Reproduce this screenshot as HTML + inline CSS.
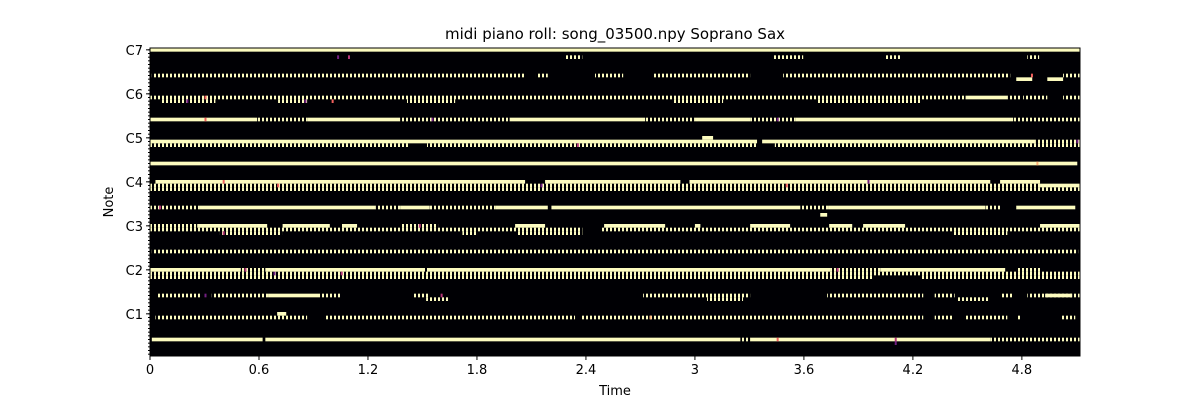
<!DOCTYPE html>
<html><head><meta charset="utf-8"><style>
html,body{margin:0;padding:0;background:#fff;}
svg{display:block;font-family:"DejaVu Sans","Liberation Sans",sans-serif;}
</style></head><body>
<svg id="chart" width="1200" height="400" xmlns="http://www.w3.org/2000/svg">
<defs>
<pattern id="dash" patternUnits="userSpaceOnUse" x="150" y="0" width="4" height="400"><rect x="0" y="0" width="2.2" height="400" fill="#fcfbbf" shape-rendering="crispEdges"/></pattern>
</defs>
<rect x="150" y="48" width="930" height="308" fill="#000004"/>
<g id="marks"></g>
<rect x="150" y="48" width="930" height="308" fill="none" stroke="#000" stroke-width="1"/>
<g id="axes" font-size="13" fill="#000"></g>
<text x="615" y="39" text-anchor="middle" font-size="15">midi piano roll: song_03500.npy Soprano Sax</text>
<text x="615" y="395" text-anchor="middle" font-size="13">Time</text>
<text x="0" y="0" transform="translate(113,202) rotate(-90)" text-anchor="middle" font-size="13">Note</text>
</svg>
<script>
const xTicks = [0, 0.6, 1.2, 1.8, 2.4, 3, 3.6, 4.2, 4.8];
const xTickLabels = ["0", "0.6", "1.2", "1.8", "2.4", "3", "3.6", "4.2", "4.8"];
const yTickPitches = [24, 36, 48, 60, 72, 84, 96];
const yTickLabels = ["C1", "C2", "C3", "C4", "C5", "C6", "C7"];
const solidNotes = [
[96,0,5.12],[88,4.769,4.857],[88,4.94,5.027],[83,4.49,4.72],
[77,0,0.59],[77,0.865,1.377],[77,1.98,2.726],[77,3.0,3.304],[77,3.552,4.752],
[72,3.04,3.10],[71,0,3.342],[71,3.37,4.873],[65,0,5.105],
[60,0.03,2.065],[60,2.175,2.92],[60,2.97,4.626],[60,4.68,4.90],[59,4.90,5.12],
[53,0.275,1.24],[53,1.377,1.54],[53,1.90,2.19],[53,2.21,3.58],[53,3.733,4.60],[53,4.769,5.094],
[51,3.69,3.728],
[48,0.26,0.645],[48,0.73,0.99],[48,1.057,1.14],[48,2.01,2.175],[48,2.50,2.836],[48,3.0,3.03],[48,3.304,3.524],[48,3.739,3.866],[48,3.926,4.157],[48,4.90,5.12],
[36,0,0.5],[36,0.635,1.514],[36,1.525,3.744],[36,4.02,4.708],
[29,0.65,0.936],[29,4.928,5.077],[24,0.70,0.75],
[17,0.01,0.62],[17,0.635,3.25],[17,3.304,4.626]
];
const dashedNotes = [
[94,2.285,2.38],[94,3.43,3.596],[94,4.047,4.13],[94,4.83,4.895],
[89,0.01,2.065],[89,2.125,2.19],[89,2.45,2.605],[89,2.77,3.304],[89,3.486,4.736],[89,5.027,5.12],
[83,0,4.49],[83,4.72,4.79],[83,4.807,4.94],[83,5.027,5.12],
[82,0.066,0.36],[82,0.705,0.865],[82,1.415,1.68],[82,2.875,3.155],[82,3.673,4.24],
[77,0.59,0.865],[77,1.377,1.98],[77,2.726,3.0],[77,3.304,3.552],[77,4.752,5.12],
[71,4.873,5.12],[70,0,1.43],[70,1.525,3.342],[70,3.44,5.12],
[59,0,4.90],[58,0,5.12],
[53,0,0.275],[53,1.24,1.377],[53,1.54,1.90],[53,3.58,3.733],[53,4.60,4.68],
[48,0,0.26],[48,1.377,1.586],
[47,0,2.38],[47,2.48,5.12],
[46,0.385,0.727],[46,1.72,1.80],[46,2.026,2.38],[46,4.42,4.72],
[41,0.01,5.11],
[36,0.5,0.635],[36,3.744,4.02],[36,4.774,4.90],
[35,0,5.12],[34,0,3.98],[34,4.24,5.12],
[29,0.044,0.275],[29,0.34,0.65],[29,0.936,1.057],[29,1.45,1.54],[29,2.715,3.304],[29,3.728,4.257],[29,4.32,4.43],[29,4.68,4.752],[29,4.83,5.12],
[28,1.52,1.65],[28,3.067,3.265],[28,4.444,4.615],
[23,0.03,0.865],[23,0.964,2.34],[23,2.37,4.257],[23,4.32,4.416],[23,4.49,4.72],[23,4.774,4.796],[23,5.01,5.094],
[17,3.25,3.304],[17,4.626,5.12]
];
const accentNotes = [
[94,1.03,0.3],[94,1.09,0.5],[82,0.2,0.3],[82,1.0,0.6],[82,0.85,0.3],[77,0.3,0.6],[77,1.55,0.3],[77,3.45,0.3],
[70,2.35,0.5],[59,0.7,0.6],[59,2.15,0.3],[59,3.5,0.6],[53,0.05,0.5],[48,1.48,0.5],[46,0.4,0.4],[35,1.05,0.5],
[35,0.68,0.3],[36,0.52,0.5],[36,3.78,0.5],[29,0.3,0.3],[29,1.6,0.5],[23,2.75,0.7],[17,3.45,0.6],[17,4.1,0.4],
[16,4.1,0.3],[83,0.3,0.6],[89,4.85,0.6],[71,5.1,0.3],[65,4.88,0.7],[60,0.4,0.6],[60,3.95,0.3]
];
const T_MAX = 5.12, P_TOP = 96, P_BOT = 13;
const X0 = 150, X1 = 1080, Y0 = 48, Y1 = 356;
const rowH = (Y1 - Y0) / (P_TOP - P_BOT + 1);
function xScale(t){ return X0 + (t / T_MAX) * (X1 - X0); }
function yTop(p){ return Y0 + (P_TOP - p) * rowH; }
function magma(v){
  if (v < 0.35) return "#721f81";
  if (v < 0.55) return "#b73779";
  if (v < 0.7) return "#f1605d";
  return "#feb078";
}
const NS = "http://www.w3.org/2000/svg";
const marks = document.getElementById("marks");
function cell(p, t0, t1, fill, name){
  const r = document.createElementNS(NS, "rect");
  r.setAttribute("x", xScale(t0));
  r.setAttribute("y", yTop(p));
  r.setAttribute("width", Math.max(1, xScale(t1) - xScale(t0)));
  r.setAttribute("height", rowH);
  r.setAttribute("fill", fill);
  
  
  marks.appendChild(r);
}
solidNotes.forEach(n => cell(n[0], n[1], n[2], "#fcfbbf", "sustained-note"));
dashedNotes.forEach(n => cell(n[0], n[1], n[2], "url(#dash)", "repeated-note"));
accentNotes.forEach(n => cell(n[0], n[1], n[1] + 0.011, magma(n[2]), "accent-note"));
const axes = document.getElementById("axes");
function line(x1, y1, x2, y2, name){
  const l = document.createElementNS(NS, "line");
  l.setAttribute("x1", x1); l.setAttribute("y1", y1); l.setAttribute("x2", x2); l.setAttribute("y2", y2);
  l.setAttribute("stroke", "#000"); l.setAttribute("stroke-width", "1");
  
  
  axes.appendChild(l);
}
function label(x, y, s, anchor, name){
  const t = document.createElementNS(NS, "text");
  t.setAttribute("x", x); t.setAttribute("y", y); t.setAttribute("text-anchor", anchor);
  t.textContent = s;
  
  
  axes.appendChild(t);
}
xTicks.forEach((v, i) => {
  const x = xScale(v);
  line(x, Y1, x, Y1 + 4, "x-tick");
  label(x, Y1 + 18, xTickLabels[i], "middle", "x-tick-label");
});
for (let p = P_BOT; p <= P_TOP; p++) {
  const y = yTop(p) + rowH / 2;
  line(X0 - 2, y, X0, y, "y-minor-tick");
}
yTickPitches.forEach((p, i) => {
  const y = yTop(p) + rowH / 2;
  line(X0 - 4, y, X0, y, "y-tick");
  label(X0 - 7, y + 5, yTickLabels[i], "end", "y-tick-label");
});
</script>
</body></html>
